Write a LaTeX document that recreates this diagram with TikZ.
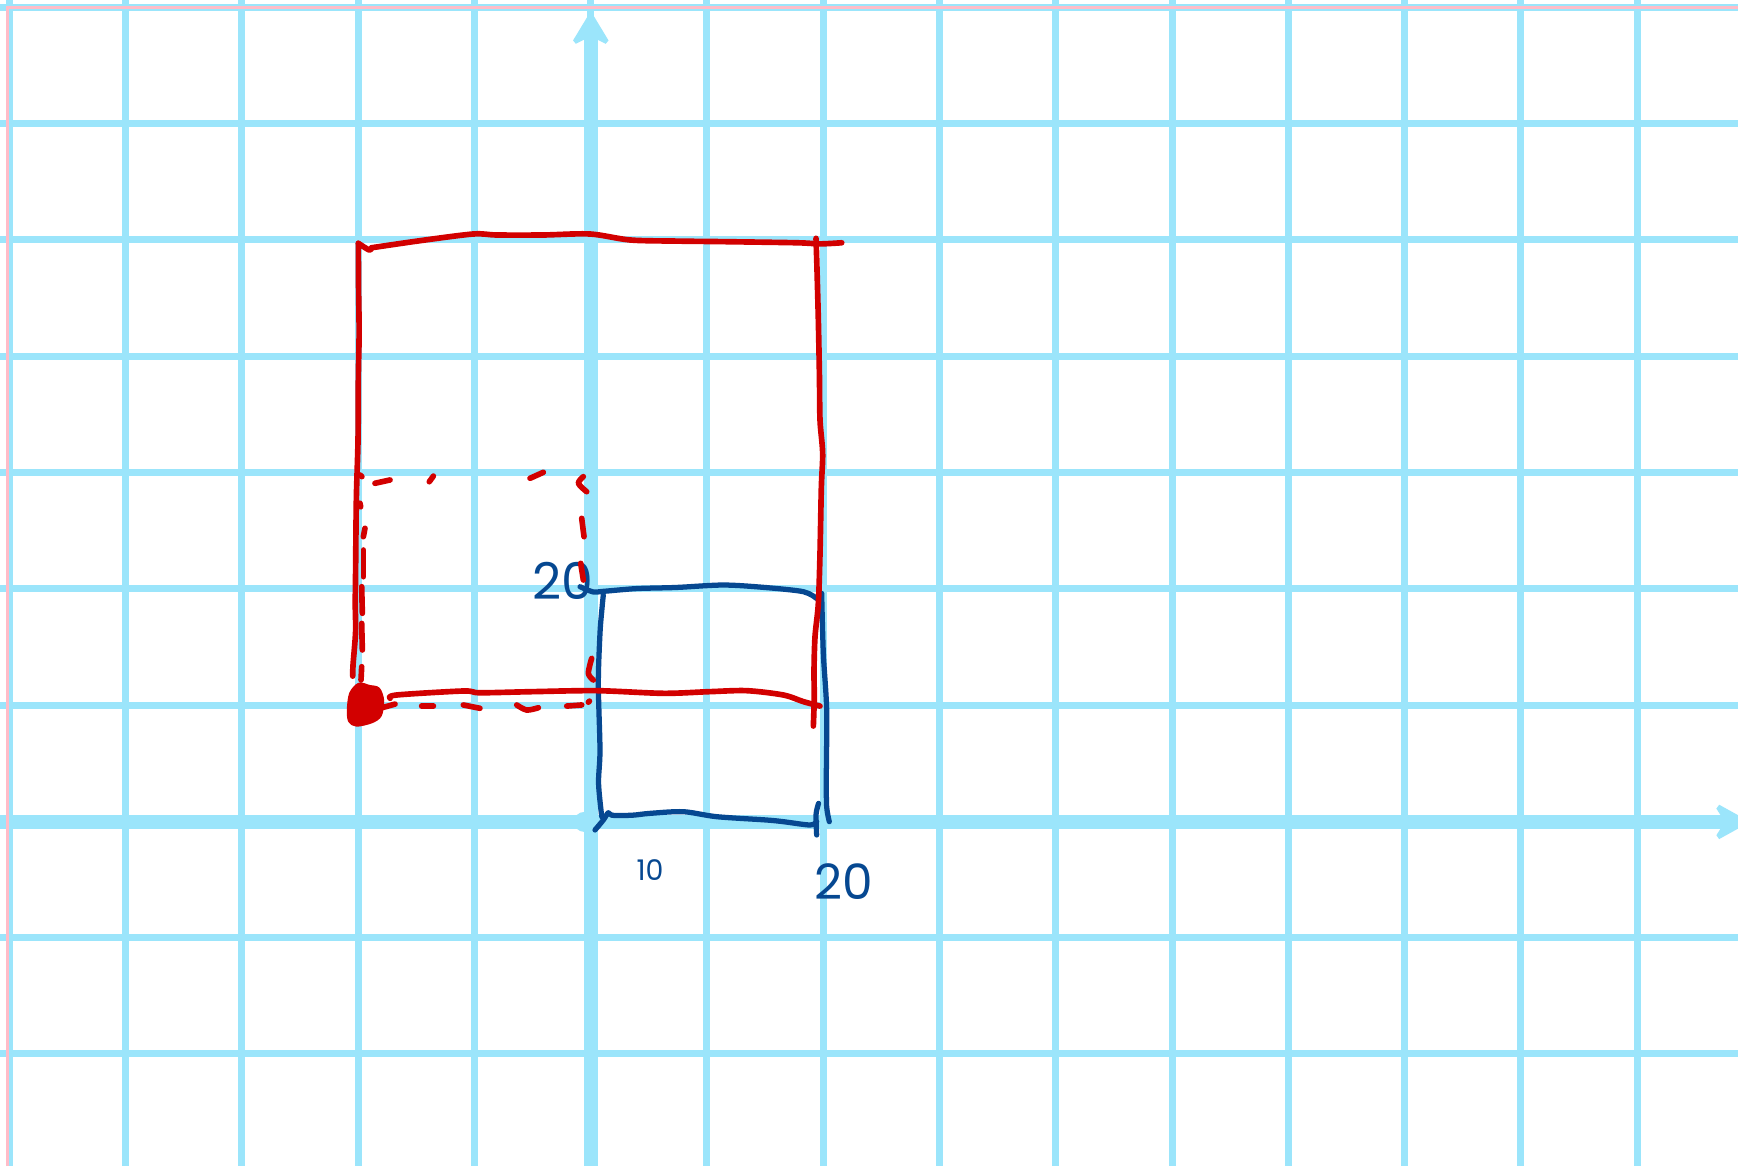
\documentclass[tikz,border=0pt]{standalone}
\usepackage{fontspec}
\setmainfont{Poppins}
\definecolor{gridc}{RGB}{155,229,251}
\definecolor{penred}{RGB}{210,0,0}
\definecolor{penblue}{RGB}{6,72,145}
\definecolor{pinkc}{RGB}{255,188,200}
\tikzset{
  gridline/.style={draw=gridc, line width=1.8pt},
  axisline/.style={draw=gridc, line width=3.7pt},
  axishead/.style={fill=gridc},
  redpen/.style={draw=penred, line width=1.45pt, line cap=round, line join=round},
  bluepen/.style={draw=penblue, line width=1.35pt, line cap=round, line join=round},
  lbl/.style={text=penblue, inner sep=0pt, anchor=center},
}
\begin{document}
\begin{tikzpicture}[x=0.1mm, y=-0.1mm]
\useasboundingbox (0,0) rectangle (1568,1052);
\clip (0,0) rectangle (1568,1052);
\fill[white] (0,0) rectangle (1568,1052);
% grid
\foreach \i in {0,...,15} \draw[gridline] ({8.4+104.9*\i},0) -- ++(0,1052);
\foreach \j in {0,...,10} \draw[gridline] (0,{6.7+104.9*\j}) -- ++(1568,0);
% axes
\draw[axisline] (533,36) -- (533,1052);
\fill[axishead] (533,10) -- (549,36.5) -- (546.5,39.5) -- (539.5,36) -- (526.5,36) -- (519.5,39.5) -- (517,36.5) -- cycle;
\draw[axisline] (0,741.5) -- (1553,741.5);
\fill[axishead] (1579,741.5) -- (1551,726) -- (1548.5,729.5) -- (1552,735) -- (1552,748) -- (1548.5,753.5) -- (1551,757) -- cycle;
\fill[gridc] (527,741.5) circle (9);
% pink page border
\draw[pinkc, line width=0.7pt] (6.5,1052) -- (6.5,6.5) -- (1568,6.5);
% blue square
\draw[bluepen] plot[smooth] coordinates {(523.3,529.3) (535,534) (544.3,533.5) (574.4,531) (610,530) (652.6,527.8) (690,530) (724.8,533.8) (736.8,540)};
\draw[bluepen] plot[smooth] coordinates {(544.3,536.8) (543,550) (541.3,571.4) (539.8,616.5) (541.3,676.7) (540,706.7) (542.9,736.8)};
\draw[bluepen] plot[smooth] coordinates {(536.8,748.8) (544.3,739.8) (548.8,733.2) (552,735.5) (570,735.5) (586.4,733.8) (616.5,732.3) (646.6,736.8) (691.7,739.8) (706.7,741.3) (730.8,744.3) (736.8,741.3)};
\draw[bluepen] plot[smooth] coordinates {(738.5,724.8) (736.2,735) (736.8,753.3)};
\draw[bluepen] plot[smooth] coordinates {(741.3,535.3) (742.8,589.4) (745.8,640) (745.5,700) (745.8,727.8) (748.2,741.3)};
% blue labels
\node[lbl, font=\fontsize{13}{13}\selectfont] (lblY) at (507.5,524) {20};
\node[lbl, font=\fontsize{7.3}{8}\selectfont] (lblA) at (586.5,785) {10};
\node[lbl, font=\fontsize{12.5}{13}\selectfont] (lblB) at (761,795.5) {20};
% red rectangle (solid)
\draw[redpen] plot[smooth] coordinates {(323.3,219.5) (333.2,225.6) (335.3,223.5)};
\draw[redpen] plot[smooth] coordinates {(335.3,223.5) (380,217) (427,211.1) (448,212) (490,212) (532.3,211.1) (568.4,216.5) (610,217.5) (652.6,218) (718.8,219) (740,220) (759.4,219)};
\draw[redpen] plot[smooth] coordinates {(323.3,219.5) (323.5,260) (324,300) (323.3,340) (323,397) (321.5,450) (320.8,517) (320.5,545) (320.8,570) (318.5,600) (318.2,610)};
\draw[redpen] plot[smooth] coordinates {(736.2,215) (737,240) (738.3,288.7) (739.3,340) (739.8,379) (742.2,409) (741,440) (739.8,499.2) (738.3,544.3) (735.3,574.4) (734.4,604.5) (734.6,630) (733.8,655)};
\draw[redpen] plot[smooth] coordinates {(351.9,630) (357.9,627) (418,623.4) (433,625) (480,624) (538.3,623.1) (598.5,625.5) (640,624) (673.6,623.1) (706.7,627) (724.8,633) (739.8,637)};
% red dot
\fill[penred, draw=penred, line width=1.2pt, line join=round] plot[smooth cycle] coordinates {(315,640) (317,626) (324,618) (333,620) (341,622) (344.5,632) (342.5,645) (335,650.5) (322,653.5) (316,650)};
% red dashed rectangle
\draw[redpen] (324.8,428.5) -- (326.5,430);
\draw[redpen] (338.3,436) -- (351.9,433);
\draw[redpen] (387.3,434.6) -- (391,429.5);
\draw[redpen] (478.2,431.5) -- (490.2,426.1);
\draw[redpen] plot[smooth] coordinates {(526.3,430) (521.8,436) (529.3,443.6)};
\draw[redpen] (524.8,467.6) -- (526.9,484.2);
\draw[redpen] (523.9,508.2) -- (526.3,523.3);
\draw[redpen] plot[smooth] coordinates {(533.8,594) (530.8,607.5) (535.3,613.5)};
\draw[redpen] (324.8,454) -- (325.4,457.2);
\draw[redpen] (329.3,476.6) -- (327.8,484.2);
\draw[redpen] (327.8,496.2) -- (327.8,520.3);
\draw[redpen] (326.3,529.3) -- (326.9,553.3);
\draw[redpen] (326.3,562.4) -- (326.9,586.4);
\draw[redpen] (326.3,601.5) -- (325.7,613.5);
\draw[redpen] (342.8,639) -- (356.4,635.2);
\draw[redpen] (380.4,637) -- (391,637);
\draw[redpen] (418,636) -- (433,639);
\draw[redpen] plot[smooth] coordinates {(466.2,636) (475.2,640.6) (485.7,638.5)};
\draw[redpen] (511.3,637) -- (524.8,636);
\draw[redpen] (530.8,633.5) -- (531.8,632.5);
\end{tikzpicture}
\end{document}
